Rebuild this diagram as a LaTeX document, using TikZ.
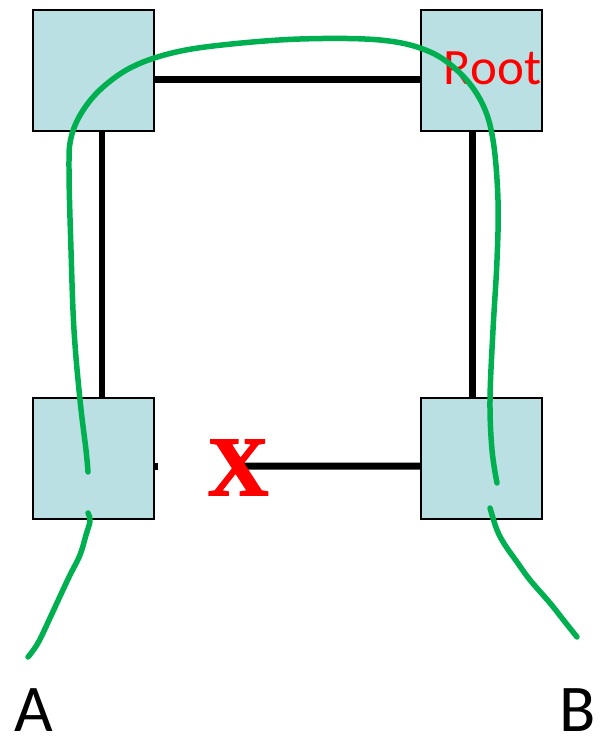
\documentclass[tikz,border=0pt]{standalone}
\usepackage{fontspec}
\usepackage{tikz}
\usetikzlibrary{calc,positioning}
\newfontfamily\calib{Carlito}
\newfontfamily\xserif[FakeBold=2]{Liberation Serif}
\definecolor{swblue}{HTML}{BBE0E3}
\definecolor{pathgreen}{HTML}{00B050}
\definecolor{failred}{HTML}{FF0000}

\begin{document}
\begin{tikzpicture}[x=0.02cm, y=-0.02cm,
  switch/.style={rectangle, draw=black, line width=0.04cm, fill=swblue,
    minimum size=2.42cm, inner sep=0pt},
  link/.style={black, line width=0.14cm},
  route/.style={pathgreen, line width=0.11cm, line cap=round, line join=round},
  endlabel/.style={font=\calib\fontsize{38}{38}\selectfont, inner sep=0pt, anchor=base}
]
\useasboundingbox (0,0) rectangle (599,740);
% ── Switches ─────────────────────────────────────
\node[switch] (tl) at (93.5,70.5) {};
\node[switch] (tr) at (481.5,70.5) {};
\node[switch] (bl) at (93.5,458.5) {};
\node[switch] (br) at (481.5,458.5) {};
\node[font=\calib\fontsize{29}{29}\selectfont, text=failred, inner sep=0pt,
  anchor=base] (root) at (492.5,85) {Root};
% ── Links ────────────────────────────────────────
\draw[link] ([yshift=-0.19cm]tl.east) -- ([yshift=-0.19cm]tr.west);
\draw[link] ([xshift=0.17cm]tl.south) -- ([xshift=0.17cm]bl.north);
\draw[link] ([xshift=-0.19cm]tr.south) -- ([xshift=-0.19cm]br.north);
% broken link
\coordinate (cut) at (244,466);
\draw[link] (cut) -- ([yshift=-0.15cm]br.west);
\draw[link] ([yshift=-0.15cm]bl.east) -- ++(3,0);
\node[font=\xserif\bfseries\fontsize{48}{48}\selectfont, text=failred,
  inner sep=0pt] (fail) at (238,467.5) {X};
% ── Spanning tree path A -> B ────────────────────
\draw[route] plot[smooth, tension=0.6] coordinates {(88,472) (86,450) (80,400)
  (74,330) (71,250) (69,170) (71,138) (82,112) (102,88) (132,67) (172,53)
  (222,45) (300,39) (380,40) (428,51) (460,73) (482,103) (493,140) (498,200)
  (497,260) (493,330) (490,400) (492,450) (497,483)};
\draw[route] plot[smooth, tension=0.6] coordinates {(88,513) (90,521) (86,535)
  (80,555) (70,575) (62,592) (50,618) (38,643) (28,657)};
\draw[route] plot[smooth, tension=0.6] coordinates {(490,508) (497,530)
  (505,545) (517,562) (530,580) (550,603) (565,622) (577,637)};
% ── End hosts ────────────────────────────────────
\node[endlabel] (hosta) at (34,731) {A};
\node[endlabel] (hostb) at (578,731) {B};
\end{tikzpicture}
\end{document}
